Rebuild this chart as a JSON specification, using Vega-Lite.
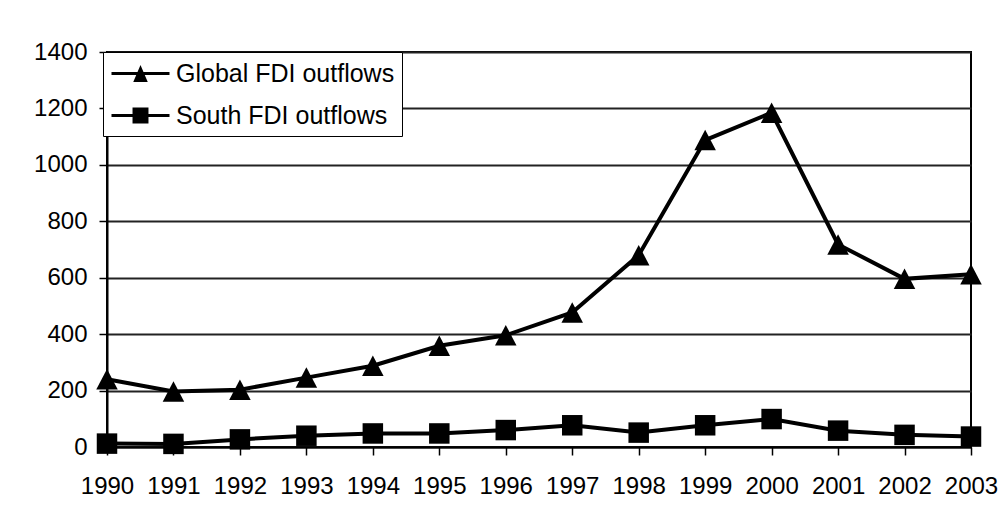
{
  "$schema": "https://vega.github.io/schema/vega-lite/v6.json",
  "width": 864,
  "height": 395,
  "autosize": {"type": "none"},
  "padding": {"left": 107, "top": 52, "right": 29, "bottom": 80},
  "background": "white",
  "config": {
    "font": "Liberation Sans",
    "view": {"stroke": "black", "strokeWidth": 2},
    "axis": {
      "labelFont": "Liberation Sans",
      "labelFontSize": 24,
      "labelColor": "black",
      "domainColor": "black",
      "domainWidth": 2,
      "tickColor": "black",
      "tickWidth": 1.5,
      "tickSize": 8,
      "title": null
    }
  },
  "data": {
    "values": [
      {"year": "1990", "series": "Global FDI outflows", "value": 240},
      {"year": "1991", "series": "Global FDI outflows", "value": 197},
      {"year": "1992", "series": "Global FDI outflows", "value": 203},
      {"year": "1993", "series": "Global FDI outflows", "value": 246},
      {"year": "1994", "series": "Global FDI outflows", "value": 288},
      {"year": "1995", "series": "Global FDI outflows", "value": 359},
      {"year": "1996", "series": "Global FDI outflows", "value": 396},
      {"year": "1997", "series": "Global FDI outflows", "value": 477},
      {"year": "1998", "series": "Global FDI outflows", "value": 680},
      {"year": "1999", "series": "Global FDI outflows", "value": 1088},
      {"year": "2000", "series": "Global FDI outflows", "value": 1185},
      {"year": "2001", "series": "Global FDI outflows", "value": 718},
      {"year": "2002", "series": "Global FDI outflows", "value": 596},
      {"year": "2003", "series": "Global FDI outflows", "value": 612},
      {"year": "1990", "series": "South FDI outflows", "value": 12},
      {"year": "1991", "series": "South FDI outflows", "value": 11},
      {"year": "1992", "series": "South FDI outflows", "value": 27},
      {"year": "1993", "series": "South FDI outflows", "value": 40},
      {"year": "1994", "series": "South FDI outflows", "value": 48},
      {"year": "1995", "series": "South FDI outflows", "value": 48},
      {"year": "1996", "series": "South FDI outflows", "value": 60},
      {"year": "1997", "series": "South FDI outflows", "value": 77},
      {"year": "1998", "series": "South FDI outflows", "value": 51},
      {"year": "1999", "series": "South FDI outflows", "value": 77},
      {"year": "2000", "series": "South FDI outflows", "value": 99},
      {"year": "2001", "series": "South FDI outflows", "value": 58},
      {"year": "2002", "series": "South FDI outflows", "value": 43},
      {"year": "2003", "series": "South FDI outflows", "value": 37}
    ]
  },
  "encoding": {
    "x": {
      "field": "year",
      "type": "ordinal",
      "scale": {"type": "point", "padding": 0},
      "axis": {"labelAngle": 0, "labelPadding": 19, "grid": false}
    },
    "y": {
      "field": "value",
      "type": "quantitative",
      "scale": {"domain": [0, 1400], "nice": false},
      "axis": {
        "values": [0, 200, 400, 600, 800, 1000, 1200, 1400],
        "format": "d",
        "grid": true,
        "gridColor": "#222222",
        "gridWidth": 2,
        "gridOpacity": 1,
        "labelPadding": 12
      }
    }
  },
  "layer": [
    {
      "mark": {"type": "line", "color": "black", "strokeWidth": 4},
      "encoding": {"detail": {"field": "series"}}
    },
    {
      "mark": {"type": "point", "filled": true, "color": "black", "opacity": 1, "size": 420},
      "encoding": {
        "shape": {
          "condition": {"test": "datum.series === 'Global FDI outflows'", "value": "M0,-1L1.05,1H-1.05Z"},
          "value": "square"
        }
      }
    },
    {
      "mark": {"type": "point", "filled": true, "color": "black", "opacity": 0, "size": 10},
      "encoding": {
        "shape": {
          "field": "series",
          "type": "nominal",
          "scale": {
            "domain": ["Global FDI outflows", "South FDI outflows"],
            "range": ["M-2,-0.1H2V0.1H-2ZM-0.5,0.59L0,-0.59L0.5,0.59Z", "M-2,-0.1H2V0.1H-2ZM-0.55,-0.55H0.55V0.55H-0.55Z"]
          },
          "legend": {
            "title": null,
            "orient": "none",
            "legendX": -4,
            "legendY": 0,
            "direction": "vertical",
            "strokeColor": "black",
            "fillColor": "white",
            "padding": 7,
            "labelFont": "Liberation Sans",
            "labelFontSize": 25,
            "labelColor": "black",
            "labelOffset": 21,
            "labelLimit": 400,
            "rowPadding": 14,
            "symbolSize": 841,
            "symbolOffset": 16,
            "symbolOpacity": 1,
            "symbolFillColor": "black",
            "symbolStrokeColor": "black",
            "symbolStrokeWidth": 0
          }
        }
      }
    }
  ]
}
